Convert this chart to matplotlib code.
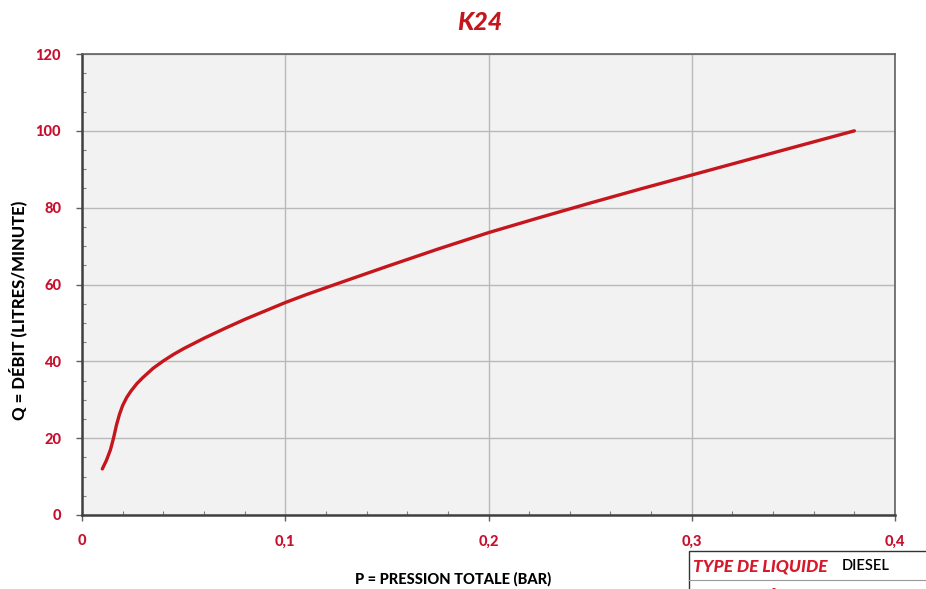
import matplotlib
matplotlib.use("Agg")
import matplotlib.pyplot as plt
from matplotlib.ticker import MultipleLocator, FixedLocator, FixedFormatter
from matplotlib.patches import Rectangle

# Data
pressure = [0.010, 0.012, 0.014, 0.0155, 0.017, 0.0185, 0.020, 0.022, 0.024,
            0.027, 0.030, 0.035, 0.040, 0.045, 0.050, 0.060, 0.070, 0.080,
            0.090, 0.100, 0.110, 0.125, 0.150, 0.175, 0.200, 0.225, 0.250,
            0.275, 0.300, 0.325, 0.350, 0.380]
flow = [12.0, 14.2, 17.0, 20.0, 23.5, 26.3, 28.5, 30.6, 32.2,
        34.2, 35.8, 38.2, 40.1, 41.8, 43.3, 46.0, 48.5, 50.9,
        53.1, 55.3, 57.3, 60.1, 64.7, 69.2, 73.5, 77.4, 81.2,
        84.9, 88.5, 92.1, 95.7, 100.0]
x_ticks = [0, 0.1, 0.2, 0.3, 0.4]
x_tick_labels = ["0", "0,1", "0,2", "0,3", "0,4"]
y_ticks = [0, 20, 40, 60, 80, 100, 120]
y_tick_labels = ["0", "20", "40", "60", "80", "100", "120"]

RED = "#c4161c"
TICK_RED = "#c8102e"
FONT = ["Lato", "DejaVu Sans"]

fig = plt.figure(figsize=(9.26, 5.89), dpi=100)
ax = fig.add_axes([82/926, 1-515/589, (895-82)/926, (515-54)/589])
ax.set_facecolor("#f2f2f2")

ax.plot(pressure, flow, color=RED, lw=2.4, solid_capstyle="round",
        solid_joinstyle="round", zorder=3)

ax.set_xlim(0, 0.4)
ax.set_ylim(0, 120)
ax.xaxis.set_major_locator(FixedLocator(x_ticks))
ax.xaxis.set_major_formatter(FixedFormatter(x_tick_labels))
ax.yaxis.set_major_locator(FixedLocator(y_ticks))
ax.yaxis.set_major_formatter(FixedFormatter(y_tick_labels))
ax.xaxis.set_minor_locator(MultipleLocator(0.02))
ax.yaxis.set_minor_locator(MultipleLocator(5))

ax.grid(True, which="major", color="#b9b9b9", lw=1.0, zorder=1)
ax.set_axisbelow(True)

for s in ax.spines.values():
    s.set_color("#606060")
    s.set_linewidth(1.2)
for k in ("left", "bottom"):
    ax.spines[k].set_linewidth(1.8)
    ax.spines[k].set_color("#404040")

ax.tick_params(which="major", direction="out", length=4, width=1, color="#606060",
               labelcolor=TICK_RED, labelsize=10.5)
ax.tick_params(axis="y", which="major", pad=11)
ax.tick_params(axis="x", which="major", pad=10)
ax.tick_params(which="minor", direction="in", length=3, width=0.8, color="#808080")
for lab in ax.get_xticklabels() + ax.get_yticklabels():
    lab.set_fontfamily(FONT)
    lab.set_fontweight("black")

fig.text(480/926, 1-22/589, "K24", ha="center", va="center", color=RED,
         fontsize=18, fontweight="black", fontstyle="italic", family=FONT)
fig.text(453/926, 1-579/589, "P = PRESSION TOTALE (BAR)", ha="center", va="center",
         color="black", fontsize=10.5, fontweight="black", family=FONT)
fig.text(18/926, 1-310/589, "Q = DÉBIT (LITRES/MINUTE)", ha="center", va="center",
         rotation=90, color="black", fontsize=12, fontweight="black", family=FONT)

# Bottom-right info table (partially visible)
fig.patches.append(Rectangle((689/926, 1-600/589), 300/926, 49/589,
                             transform=fig.transFigure, fill=False,
                             edgecolor="#333333", lw=1.0))
fig.add_artist(plt.Line2D([689/926, 1.0], [1-580/589, 1-580/589],
                          transform=fig.transFigure, color="#999999", lw=0.8))
fig.text(693/926, 1-566/589, "TYPE DE LIQUIDE", ha="left", va="center",
         color="#d7182a", fontsize=12.5, fontweight="black", fontstyle="italic", family=FONT)
fig.text(842/926, 1-566/589, "DIESEL", ha="left", va="center",
         color="black", fontsize=10.5, fontweight="semibold", family=FONT)
fig.text(693/926, 1-599/589, "VISCOSITÉ", ha="left", va="center",
         color="#d7182a", fontsize=12.5, fontweight="black", fontstyle="italic", family=FONT)

fig.savefig("out.png", dpi=100, facecolor="white")
